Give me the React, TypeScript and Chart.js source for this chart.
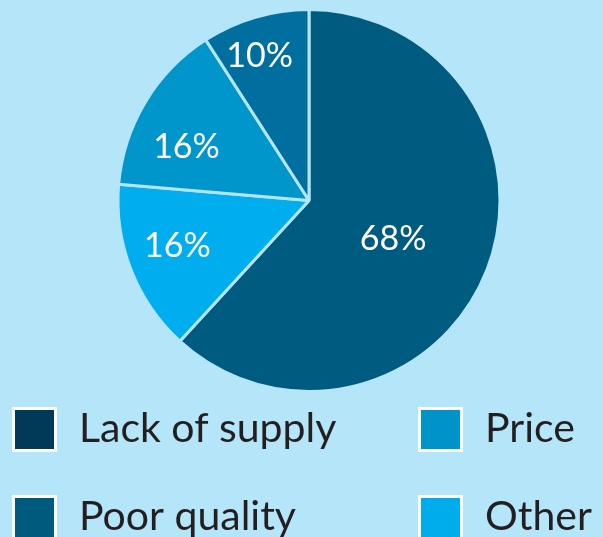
import React, { useEffect, useRef } from "react";
import { Chart, registerables } from "chart.js";

Chart.register(...registerables);

const sliceLabels = ["Poor quality", "Other", "Price", "Lack of supply"];
const sliceValues = [68, 16, 16, 10];
const sliceColors = ["#005b80", "#00aeef", "#0095cb", "#006f9f"];
const labelRadius = [0.485, 0.73, 0.7, 0.8];
const labelAngleShift = [3.5, 2, -7.5, -2.5];

const legendLabels = ["Lack of supply", "Price", "Poor quality", "Other"];
const legendColors = ["#003a58", "#0093c9", "#005a7e", "#00adec"];

const BG = "#b4e5f9";
const FONT = "Lato, 'Open Sans', sans-serif";

const sliceLabelPlugin = {
  id: "sliceLabels",
  afterDatasetsDraw(chart: any) {
    const { ctx } = chart;
    const meta = chart.getDatasetMeta(0);
    ctx.save();
    ctx.fillStyle = "#ffffff";
    ctx.font = `34px ${FONT}`;
    ctx.textAlign = "center";
    ctx.textBaseline = "middle";
    meta.data.forEach((arc: any, i: number) => {
      const { x, y, startAngle, endAngle, outerRadius } = arc.getProps(
        ["x", "y", "startAngle", "endAngle", "outerRadius"],
        true
      );
      const mid = (startAngle + endAngle) / 2 + (labelAngleShift[i] * Math.PI) / 180;
      const r = outerRadius * labelRadius[i];
      const v = sliceValues[i];
      ctx.fillText(`${v}%`, x + Math.cos(mid) * r, y + Math.sin(mid) * r);
    });
    ctx.restore();
  },
};

const legendPlugin = {
  id: "customLegend",
  afterDraw(chart: any) {
    const { ctx } = chart;
    const boxX = [12, 418];
    const textX = [79, 485];
    const boxY = [407, 495];
    const baseY = [442, 530];
    const boxSize = 45;
    ctx.save();
    legendLabels.forEach((label, i) => {
      const col = i % 2;
      const row = Math.floor(i / 2);
      ctx.fillStyle = "#ffffff";
      ctx.fillRect(boxX[col], boxY[row], boxSize, boxSize);
      ctx.fillStyle = legendColors[i];
      ctx.fillRect(boxX[col] + 3, boxY[row] + 3, boxSize - 6, boxSize - 6);
      ctx.fillStyle = "#231f20";
      ctx.font = `41px ${FONT}`;
      ctx.textAlign = "left";
      ctx.textBaseline = "alphabetic";
      ctx.fillText(label, textX[col], baseY[row]);
    });
    ctx.restore();
  },
};

export default function App() {
  const canvasRef = useRef<HTMLCanvasElement | null>(null);

  useEffect(() => {
    document.body.style.margin = "0";
    document.body.style.background = BG;
    const canvas = canvasRef.current;
    if (!canvas) return;
    const chart = new Chart(canvas, {
      type: "pie",
      data: {
        labels: sliceLabels,
        datasets: [
          {
            data: sliceValues,
            backgroundColor: sliceColors,
            borderColor: BG,
            borderWidth: 3,
          },
        ],
      },
      options: {
        animation: false,
        responsive: false,
        layout: { padding: { left: 15, right: 0, top: 8, bottom: 144 } },
        plugins: {
          legend: { display: false },
          tooltip: { enabled: false },
        },
      },
      plugins: [sliceLabelPlugin, legendPlugin],
    });
    return () => chart.destroy();
  }, []);

  return (
    <div style={{ width: 603, height: 537, background: BG, overflow: "hidden" }}>
      <canvas ref={canvasRef} width={603} height={537} style={{ display: "block" }} />
    </div>
  );
}
